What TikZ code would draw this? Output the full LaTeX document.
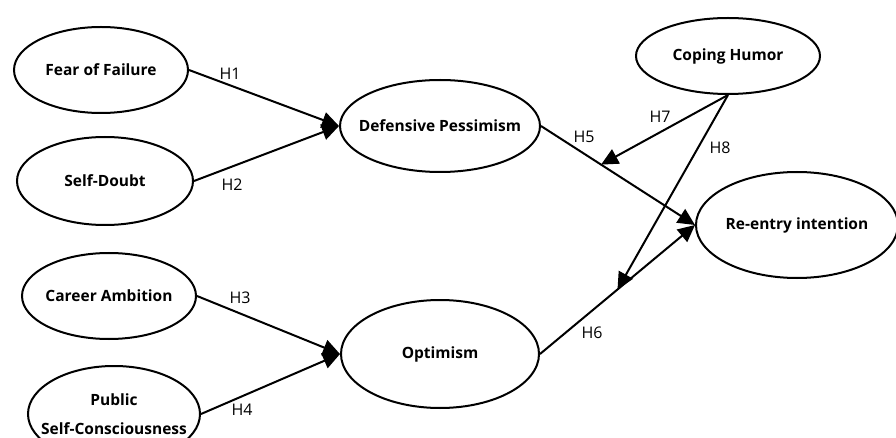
\documentclass[tikz,border=0pt]{standalone}
\usepackage{fontspec}
\setmainfont{Open Sans}
\usetikzlibrary{shapes.geometric,arrows.meta}
\tikzset{
  construct/.style={ellipse,draw,line width=2pt,inner ysep=0pt,inner xsep=-16pt,align=center,
    font=\fontsize{15.5}{29}\selectfont\bfseries},
  hlabel/.style={font=\fontsize{16}{19}\selectfont},
  path/.style={line width=2pt,-{Triangle[length=17pt,width=16pt]}},
}
\begin{document}
\begin{tikzpicture}[x=1pt,y=-1pt]
      \useasboundingbox (0,0) rectangle (896,438);
      \draw
        (101,70) node[construct,minimum width=174,minimum height=86] (fear){Fear of Failure}
        (105,181) node[construct,minimum width=176,minimum height=88] (doubt){Self-Doubt}
        (109,296) node[construct,minimum width=174,minimum height=86] (ambition){Career Ambition}
        (114,414) node[construct,minimum width=172,minimum height=96] (public){Public\\Self-Consciousness}
        (440,126) node[construct,minimum width=200,minimum height=92] (pessimism){Defensive Pessimism}
        (440,354) node[construct,minimum width=198,minimum height=108] (optimism){Optimism}
        (728,56) node[construct,minimum width=184,minimum height=76] (humor){Coping Humor}
        (797,225) node[construct,minimum width=202,minimum height=106] (reentry){Re-entry intention};
      \begin{scope}[path]
        \draw (fear.east) to (pessimism.west);
        \draw (doubt.east) to (pessimism.west);
        \draw (ambition.east) to (optimism.west);
        \draw (public.east) to (optimism.west);
        \draw (pessimism.east) to coordinate[pos=0.39] (m5) (reentry.west);
        \draw (optimism.east) to coordinate[pos=0.5] (m6) (reentry.west);
        \draw (humor.south) to (m5);
        \draw (humor.south) to (m6);
      \end{scope}
      \draw
        (230,74) node[hlabel] (h1){H1}
        (232,185) node[hlabel] (h2){H2}
        (240,298) node[hlabel] (h3){H3}
        (242,410) node[hlabel] (h4){H4}
        (584,137) node[hlabel] (h5){H5}
        (592,333) node[hlabel] (h6){H6}
        (660,117) node[hlabel] (h7){H7}
        (720,148) node[hlabel] (h8){H8};
    \end{tikzpicture}
\end{document}
